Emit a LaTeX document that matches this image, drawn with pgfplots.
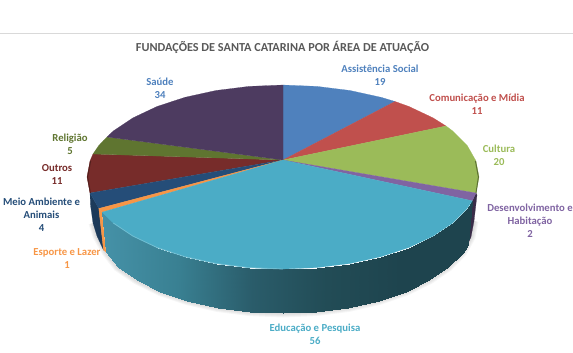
\documentclass[border=0pt]{standalone}
\usepackage{pgfplots}
\pgfplotsset{compat=1.18}
\usepgfplotslibrary{patchplots}
\usepackage{fontspec}
\setmainfont{Carlito}
\definecolor{cAss}{HTML}{4F81BD}
\definecolor{cCom}{HTML}{C0504D}
\definecolor{cCul}{HTML}{9BBB59}
\definecolor{cDes}{HTML}{8064A2}
\definecolor{cEdu}{HTML}{4BACC6}
\definecolor{cEsp}{HTML}{F79646}
\definecolor{cMei}{HTML}{254D78}
\definecolor{cOut}{HTML}{772C2A}
\definecolor{cRel}{HTML}{5F7530}
\definecolor{cSau}{HTML}{4D3B60}
\definecolor{cTit}{HTML}{595959}
\newcommand{\lab}[4]{\node[font=\bfseries\fontsize{10.7}{13}\selectfont,text=#3,align=center,inner sep=0pt] at (axis cs:#1,#2) {#4};}
\begin{document}
\begin{tikzpicture}
\begin{axis}[
  x=1pt,y=1pt,xmin=0,xmax=573,ymin=0,ymax=353,y dir=reverse,
  hide axis,clip=false,
  colormap={edu}{rgb255=(69,145,167) rgb255=(57,128,146) rgb255=(42,92,106) rgb255=(34,76,86) rgb255=(30,68,78) rgb255=(30,68,78)},
  point meta min=104,point meta max=475]
\path[use as bounding box] (axis cs:0,0) rectangle (axis cs:573,353);
% rule
\addplot[color=black!15,line width=0.8pt] coordinates {(0,33) (573,33)};
% shadow
\pgfplotsinvokeforeach{9,7,5,3}{
\addplot[color=black,opacity=0.035,line width=#1pt] coordinates {(474,221)(471,237)(462.5,252.5)(448.4,267)(429.3,280)(405.8,291.5)(378.5,300.7)(348.3,307.5)(316.2,311.6)(283,313)(249.8,311.6)(217.7,307.5)(187.5,300.7)(160.2,291.5)(136.7,280)(117.6,267)(106,252)(97,236)(93,223)};
}
% walls
\addplot[fill=cMei!75!black,draw=cMei!75!black,line width=0.2pt] coordinates {(98.8,208.5)(90,193)(90.5,205)(93,223)(97,236)(103.5,250)} --cycle;
\addplot[fill=cEsp,draw=cEsp,line width=0.2pt] coordinates {(98.8,208.5)(102,212.2)(106,252)(103.5,250)} --cycle;
\addplot[fill=cDes!45!black,draw=cDes!45!black,line width=0.2pt] coordinates {(477,195)(476,193)(472.3,200.8)(467.5,244.8)(471,237)(474,221)} --cycle;
\addplot[patch,patch type=rectangle,shader=interp,point meta=x] coordinates {
(102,212.2)(113.3,223)(117.6,267)(106,252)
(113.3,223)(132.9,236.1)(136.7,280)(117.6,267)
(132.9,236.1)(157,247.5)(160.2,291.5)(136.7,280)
(157,247.5)(185,256.7)(187.5,300.7)(160.2,291.5)
(185,256.7)(216,263.5)(217.7,307.5)(187.5,300.7)
(216,263.5)(249,267.6)(249.8,311.6)(217.7,307.5)
(249,267.6)(283,269)(283,313)(249.8,311.6)
(283,269)(317,267.6)(316.2,311.6)(283,313)
(317,267.6)(350,263.5)(348.3,307.5)(316.2,311.6)
(350,263.5)(381,256.7)(378.5,300.7)(348.3,307.5)
(381,256.7)(409,247.5)(405.8,291.5)(378.5,300.7)
(409,247.5)(433.1,236.1)(429.3,280)(405.8,291.5)
(433.1,236.1)(452.7,223)(448.4,267)(429.3,280)
(452.7,223)(467.2,208.5)(462.5,252.5)(448.4,267)
(467.2,208.5)(472.3,200.8)(467.5,244.8)(462.5,252.5)
};
% top faces
\addplot[fill=cAss,draw=cAss,line width=0.2pt] coordinates {(283,160)(283,85)(317,86.4)(350,90.5)(381,97.3)(395,101.5)} --cycle;
\addplot[fill=cCom,draw=cCom,line width=0.2pt] coordinates {(283,160)(395,101.5)(409,106.5)(433.1,117.9)(446,126)} --cycle;
\addplot[fill=cCul,draw=cCul,line width=0.2pt] coordinates {(283,160)(446,126)(452.7,131)(467.2,145.5)(476,161)(479,177)(476,193)} --cycle;
\addplot[fill=cDes,draw=cDes,line width=0.2pt] coordinates {(283,160)(476,193)(472.3,200.8)} --cycle;
\addplot[fill=cOut,draw=cOut,line width=0.2pt] coordinates {(283,160)(90,193)(87,177)(90,161)(93,154)} --cycle;
\addplot[fill=cRel,draw=cRel,line width=0.2pt] coordinates {(283,160)(93,154)(98.8,145.5)(107,137)} --cycle;
\addplot[fill=cSau,draw=cSau,line width=0.2pt] coordinates {(283,160)(107,137)(113.3,131)(132.9,117.9)(157,106.5)(185,97.3)(216,90.5)(249,86.4)(283,85)} --cycle;
\addplot[fill=cMei,draw=cMei,line width=0.2pt] coordinates {(283,160)(98.8,208.5)(90,193)} --cycle;
\addplot[fill=cEsp,draw=cEsp,line width=0.2pt] coordinates {(283,160)(102,212.2)(98.8,208.5)} --cycle;
\addplot[fill=cEdu,draw=cEdu,line width=0.2pt] coordinates {(283,160)(472.3,200.8)(467.2,208.5)(452.7,223)(433.1,236.1)(409,247.5)(381,256.7)(350,263.5)(317,267.6)(283,269)(249,267.6)(216,263.5)(185,256.7)(157,247.5)(132.9,236.1)(113.3,223)(102,212.2)} --cycle;
% rim details
\addplot[color=cOut!70!black,line width=1pt] coordinates {(90.4,193)(87.6,177)(90.6,161)};
\addplot[color=cCul!60!black,line width=1pt] coordinates {(476,193)(478.4,177)(475.4,161)};
\addplot[color=cEdu!80!white,line width=0.8pt] coordinates {(113.3,223)(132.9,236.1)(157,247.5)(185,256.7)(216,263.5)(249,267.6)(283,269)};
% title and labels
\node[font=\bfseries\fontsize{12.25}{13}\selectfont,text=cTit,inner sep=0pt] at (axis cs:282.5,47) {FUNDAÇÕES DE SANTA CATARINA POR ÁREA DE ATUAÇÃO};
\lab{380}{75.5}{cAss}{Assistência Social\\19}
\lab{477}{104.5}{cCom}{Comunicação e Mídia\\11}
\lab{499}{155.5}{cCul}{Cultura\\20}
\lab{530}{221}{cDes}{Desenvolvimento e\\Habitação\\2}
\lab{315}{334.5}{cEdu}{Educação e Pesquisa\\56}
\lab{67}{258.5}{cEsp}{Esporte e Lazer\\1}
\lab{41.5}{215}{cMei}{Meio Ambiente e\\Animais\\4}
\lab{57}{174.5}{cOut}{Outros\\11}
\lab{70}{144.5}{cRel}{Religião\\5}
\lab{160}{88.5}{cAss}{Saúde\\34}
\end{axis}
\end{tikzpicture}
\end{document}
